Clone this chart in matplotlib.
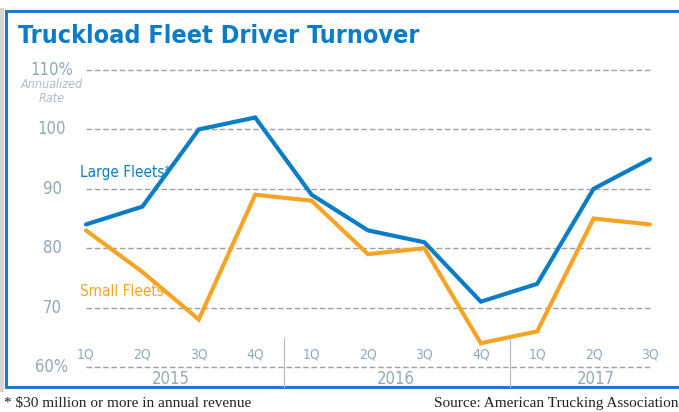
import matplotlib
matplotlib.use("Agg")
import matplotlib.pyplot as plt
from matplotlib.patches import Rectangle

quarters = ["1Q", "2Q", "3Q", "4Q", "1Q", "2Q", "3Q", "4Q", "1Q", "2Q", "3Q"]
years = ["2015", "2016", "2017"]
large = [84, 87, 100, 102, 89, 83, 81, 71, 74, 90, 95]
small = [83, 76, 68, 89, 88, 79, 80, 64, 66, 85, 84]
yticks = [60, 70, 80, 90, 100, 110]

BLUE = "#0b7cc6"
ORANGE = "#f6a425"
TICK = "#93a8b8"
GRID = "#a0a0a0"
NARROW = dict(family="DejaVu Sans", stretch="condensed")
SERIF = ["Liberation Serif", "DejaVu Serif"]

W, H = 679, 412
fig = plt.figure(figsize=(W / 100, H / 100), dpi=100)


def fx(px):
    return px / W


def fy(py):
    return 1 - py / H


# frame
fig.patches.append(Rectangle((0, fy(392)), fx(4), fy(8) - fy(392), transform=fig.transFigure,
                             facecolor="#d6d6d6", edgecolor="none", zorder=-2))
fig.patches.append(Rectangle((fx(6), fy(387)), fx(690) - fx(6), fy(11) - fy(387),
                             transform=fig.transFigure, facecolor="white",
                             edgecolor="#1a7fc9", linewidth=2.2, zorder=-1))

ax = fig.add_axes([fx(86), fy(367), fx(650) - fx(86), fy(70) - fy(367)])
ax.set_zorder(2)
ax.patch.set_visible(False)
ax.set_xlim(0, len(quarters) - 1)
ax.set_ylim(60, 110)
ax.axis("off")

for v in yticks:
    ax.axhline(v, color=GRID, linestyle=(0, (4, 2)), linewidth=1.0, zorder=1, clip_on=False)

x = list(range(len(quarters)))
ax.plot(x, large, color=BLUE, linewidth=3.0, solid_capstyle="round",
        solid_joinstyle="miter", clip_on=False, zorder=3)
ax.plot(x, small, color=ORANGE, linewidth=3.0, solid_capstyle="round",
        solid_joinstyle="miter", clip_on=False, zorder=2)

# y labels
for v in yticks:
    lab = f"{v}%" if v in (60, 110) else str(v)
    fig.text(fx(52), fy(367) + (v - 60) / 50 * (fy(70) - fy(367)), lab, ha="center",
             va="center", color=TICK, fontsize=12, fontweight="medium", **NARROW)
fig.text(fx(52), fy(85), "Annualized", ha="center", va="center", color="#b0bcc6",
         fontsize=9, style="italic", **NARROW)
fig.text(fx(52), fy(99), "Rate", ha="center", va="center", color="#b0bcc6",
         fontsize=9, style="italic", **NARROW)

# quarter and year labels
for i, q in enumerate(quarters):
    fig.text(fx(86) + i * (fx(650) - fx(86)) / (len(quarters) - 1), fy(355), q,
             ha="center", va="center", color=TICK, fontsize=10, **NARROW)
for yr, cx in zip(years, [171, 396, 596]):
    fig.text(fx(cx), fy(379), yr, ha="center", va="center", color=TICK,
             fontsize=12, **NARROW)
for sx in [284, 510]:
    fig.lines.append(plt.Line2D([fx(sx), fx(sx)], [fy(338), fy(387)],
                                transform=fig.transFigure, color="#aab8c4", linewidth=0.8))

# series labels
fig.text(fx(80), fy(172), "Large Fleets*", ha="left", va="center", color=BLUE,
         fontsize=11, **NARROW)
fig.text(fx(80), fy(291), "Small Fleets", ha="left", va="center", color=ORANGE,
         fontsize=11, **NARROW)

# title
fig.text(fx(18), fy(36), "Truckload Fleet Driver Turnover", ha="left", va="center",
         color="#0b7cc6", fontsize=18, fontweight="bold", **NARROW)

# footnotes
fig.text(fx(4), fy(403), "* $30 million or more in annual revenue", ha="left", va="center",
         color="#222222", fontsize=11, family=SERIF)
fig.text(fx(679), fy(403), "Source: American Trucking Association", ha="right", va="center",
         color="#222222", fontsize=11, family=SERIF)

fig.savefig("out.png", dpi=100)
